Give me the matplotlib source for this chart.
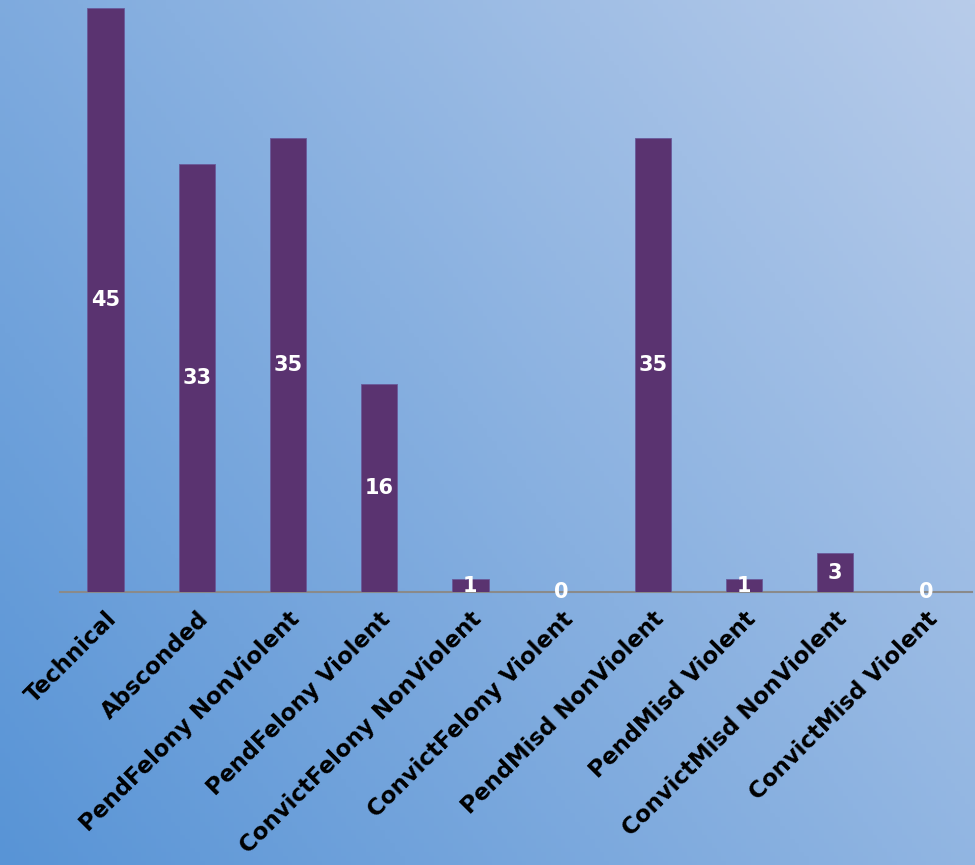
import matplotlib.pyplot as plt
import numpy as np

categories = ["Technical", "Absconded", "PendFelony NonViolent", "PendFelony Violent",
              "ConvictFelony NonViolent", "ConvictFelony Violent", "PendMisd NonViolent",
              "PendMisd Violent", "ConvictMisd NonViolent", "ConvictMisd Violent"]
counts = [45, 33, 35, 16, 1, 0, 35, 1, 3, 0]

plt.rcParams['font.family'] = ['DejaVu Sans']

fig = plt.figure(figsize=(9.75, 8.65), dpi=100)

# background gradient, mid blue lower left to pale blue upper right
bg = fig.add_axes([0, 0, 1, 1], zorder=0)
xx, yy = np.meshgrid(np.linspace(0, 1, 200), np.linspace(0, 1, 200))
t = np.clip(0.6 * xx + 0.4 * yy, 0, 1)[..., None]
dark = np.array([88, 148, 214]) / 255
light = np.array([184, 204, 234]) / 255
bg.imshow(dark * (1 - t) + light * t, origin='lower', aspect='auto', extent=[0, 1, 0, 1])
bg.axis('off')

ax = fig.add_axes([60 / 975, (865 - 592) / 865, 912 / 975, 584 / 865], zorder=1)
ax.patch.set_alpha(0)
x = np.arange(len(categories))
bars = ax.bar(x, counts, width=0.4, color="#5a3370", edgecolor="#6a5a9a", linewidth=0.6)
ax.set_xlim(-0.5, len(categories) - 0.5)
ax.set_ylim(0, 45)

for xi, v in zip(x, counts):
    ax.text(xi, v / 2, str(v), ha='center', va='center', color='white',
            fontsize=15, fontweight='bold')

ax.set_xticks(x)
ax.set_xticklabels(categories, rotation=45, ha='right', rotation_mode='anchor',
                   fontsize=16.5, fontweight='bold', color='black')
ax.tick_params(axis='x', length=0, pad=11)
ax.set_yticks([])
for s in ['top', 'right', 'left']:
    ax.spines[s].set_visible(False)
ax.spines['bottom'].set_color('#8a8a8a')
ax.spines['bottom'].set_linewidth(1.5)
ax.spines['bottom'].set_zorder(0.5)

fig.savefig("out.png", dpi=100)
